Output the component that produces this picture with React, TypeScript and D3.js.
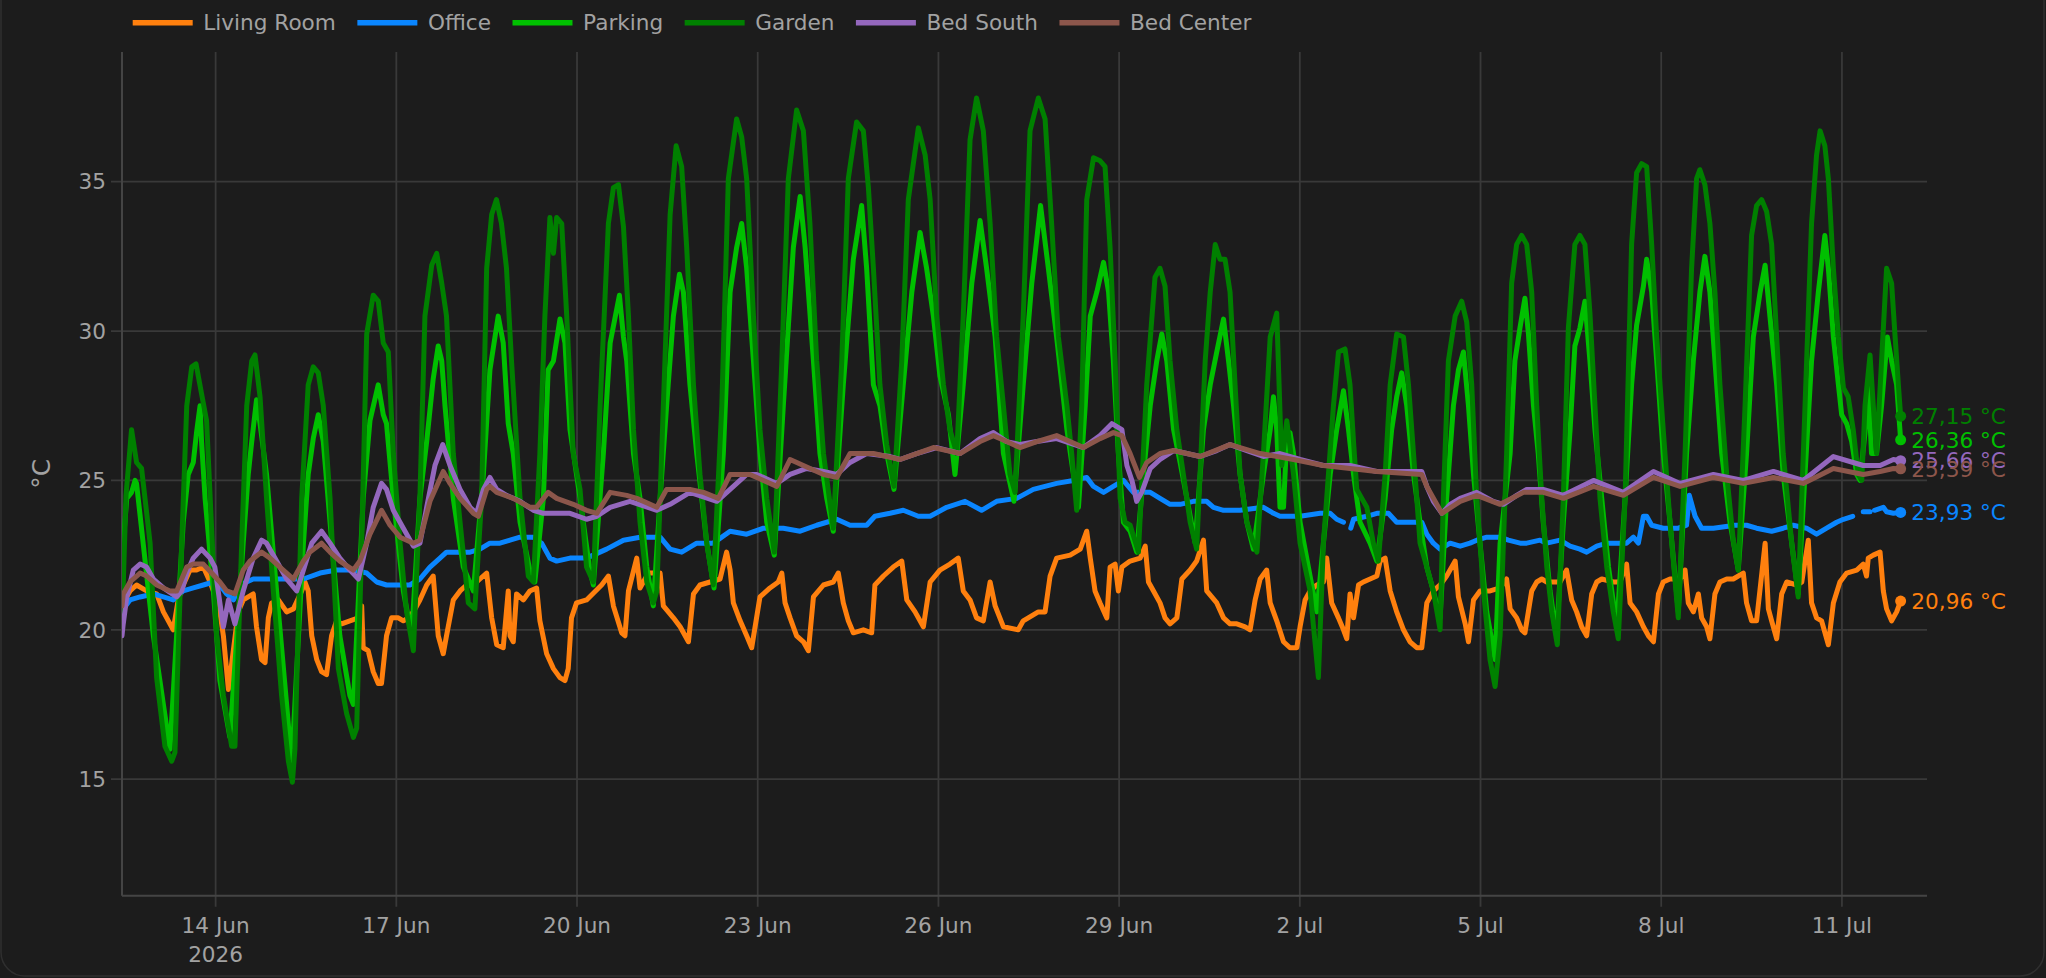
import * as d3 from 'd3';
import { useEffect, useRef } from 'react';

type Pt = [number, number | null];

// readings: [hours since 12 Jun 2026 00:00, °C]; null marks a gap in the history
const livingRoom: Pt[] = [
  [10.7, 20.5], [11.2, 20.9], [13.9, 21.3], [16.5, 21.5], [20.5, 21.3], [24.5, 21.2], [27.2, 20.6], [31.1, 20.0],
  [33.1, 21.0], [35.1, 21.5], [37.8, 22.0], [40.4, 22.0], [43.1, 22.1], [45.8, 21.6], [47.1, 21.3], [49.7, 20.6],
  [51.1, 19.8], [53.1, 18.0], [57.0, 20.6], [59.0, 21.0], [63.0, 21.2], [64.3, 20.1], [66.3, 19.0], [67.7, 18.9],
  [69.0, 20.4], [70.3, 20.9], [73.0, 21.0], [76.3, 20.6], [79.0, 20.7], [82.3, 21.3], [83.6, 21.6], [84.9, 21.3],
  [86.3, 19.8], [88.3, 19.0], [90.2, 18.6], [92.2, 18.5], [94.2, 19.8], [96.2, 20.3], [98.2, 20.2], [101.5, 20.3],
  [104.9, 20.4], [106.2, 20.8], [106.8, 19.4], [108.8, 19.3], [110.8, 18.6], [112.8, 18.2], [114.1, 18.2], [116.1, 19.8],
  [118.1, 20.4], [120.8, 20.4], [122.8, 20.3], [124.8, 20.4], [126.8, 20.6], [129.4, 21.0], [132.1, 21.5], [134.7, 21.8],
  [136.7, 19.8], [138.7, 19.2], [140.0, 19.8], [142.7, 21.0], [145.4, 21.3], [148.0, 21.5], [150.7, 21.5], [153.3, 21.7],
  [156.0, 21.9], [158.0, 20.4], [160.0, 19.5], [162.6, 19.4], [164.6, 21.3], [165.3, 19.8], [166.6, 19.6], [167.9, 21.2],
  [170.6, 21.0], [173.2, 21.3], [175.9, 21.4], [177.2, 20.3], [179.9, 19.2], [182.6, 18.7], [185.2, 18.4], [187.2, 18.3],
  [188.5, 18.7], [189.8, 20.4], [191.8, 20.9], [195.8, 21.0], [201.8, 21.5], [204.5, 21.8], [206.5, 20.8], [209.8, 19.9],
  [211.1, 19.8], [212.5, 21.3], [215.8, 22.4], [217.1, 21.4], [220.4, 21.9], [225.1, 21.9], [226.4, 20.8], [230.4, 20.4],
  [233.1, 20.1], [236.4, 19.6], [238.4, 21.2], [241.0, 21.5], [245.0, 21.6], [249.0, 21.7], [251.6, 22.6], [253.0, 22.0],
  [254.3, 20.9], [257.0, 20.3], [259.6, 19.8], [261.6, 19.4], [264.9, 21.1], [268.9, 21.4], [272.2, 21.6], [273.6, 21.9],
  [274.9, 20.9], [276.9, 20.4], [279.5, 19.8], [282.2, 19.6], [284.2, 19.3], [286.2, 21.1], [290.2, 21.5], [294.1, 21.6],
  [296.1, 21.9], [298.1, 20.9], [300.1, 20.3], [302.1, 19.9], [306.1, 20.0], [309.4, 19.9], [310.7, 21.5], [314.1, 21.8],
  [318.0, 22.1], [321.4, 22.3], [323.4, 21.0], [326.7, 20.6], [330.0, 20.1], [332.7, 21.6], [336.6, 22.0], [340.6, 22.2],
  [343.9, 22.4], [345.9, 21.3], [348.6, 21.0], [351.2, 20.4], [353.9, 20.3], [356.6, 21.6], [358.6, 20.8], [361.9, 20.1],
  [367.8, 20.0], [369.8, 20.3], [375.8, 20.6], [378.5, 20.6], [380.5, 21.8], [383.1, 22.4], [388.5, 22.5], [392.5, 22.7],
  [395.1, 23.3], [396.5, 22.4], [398.4, 21.3], [400.4, 20.9], [403.1, 20.4], [404.4, 22.1], [406.4, 22.2], [407.7, 21.3],
  [409.1, 22.1], [412.4, 22.3], [416.4, 22.4], [418.4, 22.8], [419.7, 21.6], [421.7, 21.3], [424.3, 20.9], [426.3, 20.4],
  [428.3, 20.2], [431.0, 20.4], [433.0, 21.7], [436.3, 22.0], [438.9, 22.3], [441.6, 23.0], [442.9, 21.3], [446.9, 20.9],
  [449.6, 20.4], [452.2, 20.2], [454.9, 20.2], [458.2, 20.1], [460.2, 20.0], [462.2, 21.0], [464.2, 21.7], [466.8, 22.0],
  [468.2, 20.9], [470.8, 20.3], [473.5, 19.6], [476.1, 19.4], [478.8, 19.4], [480.1, 20.1], [482.1, 21.0], [484.1, 21.3],
  [486.8, 21.5], [489.4, 21.6], [490.7, 22.4], [492.7, 20.9], [495.4, 20.4], [497.4, 20.0], [498.7, 19.7], [500.0, 21.2],
  [501.4, 20.4], [503.4, 21.5], [505.3, 21.6], [508.0, 21.7], [510.7, 21.8], [512.0, 22.3], [514.0, 22.4], [516.0, 21.3],
  [518.6, 20.6], [521.3, 20.0], [523.9, 19.6], [526.6, 19.4], [528.6, 19.4], [530.6, 20.9], [533.2, 21.3], [535.9, 21.5],
  [538.5, 21.8], [541.9, 22.3], [543.2, 21.1], [545.9, 20.2], [547.2, 19.6], [549.2, 21.0], [551.8, 21.3], [555.8, 21.3],
  [559.8, 21.4], [562.4, 21.7], [563.8, 20.7], [566.4, 20.4], [568.4, 20.0], [569.7, 19.9], [572.4, 21.3], [574.4, 21.6],
  [576.4, 21.7], [578.4, 21.6], [583.7, 21.6], [586.3, 22.0], [588.3, 21.0], [590.3, 20.6], [592.3, 20.1], [594.3, 19.8],
  [596.3, 21.2], [598.3, 21.6], [600.3, 21.7], [604.9, 21.6], [607.6, 21.6], [610.2, 22.2], [611.6, 20.9], [614.2, 20.6],
  [616.9, 20.1], [618.9, 19.8], [620.9, 19.6], [622.9, 21.2], [624.8, 21.6], [627.5, 21.7], [631.5, 21.7], [633.5, 22.0],
  [634.8, 20.9], [636.8, 20.6], [638.8, 21.2], [640.1, 20.4], [642.1, 20.1], [643.4, 19.7], [645.4, 21.2], [647.4, 21.6],
  [650.1, 21.7], [652.7, 21.7], [656.7, 21.9], [658.0, 20.9], [660.0, 20.3], [662.0, 20.3], [665.4, 22.9], [666.7, 20.7],
  [668.0, 20.3], [670.0, 19.7], [672.0, 21.2], [674.0, 21.6], [678.0, 21.5], [680.0, 21.6], [682.6, 23.0], [683.9, 20.9],
  [685.9, 20.4], [687.9, 20.3], [690.6, 19.5], [692.6, 20.9], [695.2, 21.6], [697.9, 21.9], [701.9, 22.0], [704.5, 22.2],
  [705.8, 21.8], [706.5, 22.4], [708.5, 22.5], [711.2, 22.6], [712.5, 21.3], [713.8, 20.7], [715.8, 20.3], [717.8, 20.6],
  [719.4, 20.96],
];

const office: Pt[] = [
  [10.7, 20.3], [11.2, 20.7], [13.9, 21.0], [17.9, 21.1], [23.2, 21.2], [27.2, 21.1], [31.1, 21.0], [35.1, 21.3],
  [39.1, 21.4], [43.1, 21.5], [47.1, 21.6], [49.7, 21.5], [52.4, 21.2], [55.1, 21.0], [57.7, 21.5], [63.0, 21.7],
  [69.7, 21.7], [76.3, 21.7], [83.0, 21.7], [89.6, 21.9], [96.2, 22.0], [102.9, 22.0], [108.2, 21.9], [112.2, 21.6],
  [116.1, 21.5], [121.5, 21.5], [125.4, 21.5], [129.4, 21.7], [133.4, 22.1], [137.4, 22.4], [140.0, 22.6], [145.4, 22.6],
  [149.4, 22.6], [153.3, 22.7], [157.3, 22.9], [161.3, 22.9], [165.3, 23.0], [169.3, 23.1], [174.6, 23.1], [177.9, 22.9],
  [181.2, 22.4], [183.9, 22.3], [189.2, 22.4], [195.8, 22.4], [203.8, 22.7], [210.5, 23.0], [217.1, 23.1], [225.1, 23.1],
  [229.1, 22.7], [233.7, 22.6], [239.7, 22.9], [246.3, 22.9], [253.0, 23.3], [259.6, 23.2], [266.3, 23.4], [274.2, 23.4],
  [280.9, 23.3], [287.5, 23.5], [295.5, 23.7], [300.8, 23.5], [307.4, 23.5], [310.7, 23.8], [316.7, 23.9], [322.0, 24.0],
  [328.0, 23.8], [332.7, 23.8], [339.3, 24.1], [346.6, 24.3], [353.2, 24.0], [359.2, 24.3], [367.2, 24.4], [373.8, 24.7],
  [383.1, 24.9], [389.8, 25.0], [395.1, 25.1], [397.8, 24.8], [401.8, 24.6], [405.7, 24.8], [409.7, 25.0], [413.7, 24.6],
  [420.4, 24.6], [424.3, 24.4], [428.3, 24.2], [432.3, 24.2], [437.6, 24.3], [442.9, 24.3], [445.6, 24.1], [449.6, 24.0],
  [456.2, 24.0], [465.5, 24.1], [469.5, 23.9], [472.1, 23.8], [480.1, 23.8], [488.1, 23.9], [492.1, 23.9], [494.7, 23.7],
  [497.4, 23.6], [498.5, null], [500.3, 23.4], [501.4, 23.7], [506.7, 23.8], [510.7, 23.9], [515.3, 23.9], [518.6, 23.6],
  [521.3, 23.6], [525.3, 23.6], [528.6, 23.6], [530.6, 23.2], [533.2, 22.9], [535.9, 22.7], [539.9, 22.9], [543.9, 22.8],
  [547.8, 22.9], [550.5, 23.0], [554.5, 23.1], [559.8, 23.1], [563.1, 23.0], [567.8, 22.9], [570.4, 22.9], [575.7, 23.0],
  [578.4, 22.9], [583.7, 23.0], [587.7, 22.8], [591.6, 22.7], [594.3, 22.6], [598.3, 22.8], [602.3, 22.9], [610.2, 22.9],
  [612.9, 23.1], [614.9, 22.9], [616.9, 23.8], [618.2, 23.8], [620.2, 23.5], [624.8, 23.4], [630.8, 23.4], [634.1, 23.5],
  [635.2, 24.5], [637.5, 23.8], [640.1, 23.4], [644.8, 23.4], [653.4, 23.5], [658.0, 23.5], [662.0, 23.4], [668.0, 23.3],
  [672.6, 23.4], [676.6, 23.5], [681.9, 23.4], [685.9, 23.2], [689.9, 23.4], [693.9, 23.6], [696.6, 23.7], [700.3, 23.8],
  [702.0, null], [704.5, 23.95], [707.2, 23.95], [708.0, null], [709.0, 24.0], [712.5, 24.1], [713.8, 23.95], [716.5, 23.9],
  [719.4, 23.93],
];

const parking: Pt[] = [
  [10.7, 20.0], [11.2, 22.9], [12.6, 24.4], [14.5, 24.6], [15.9, 25.0], [16.5, 24.9], [23.2, 19.8], [29.8, 16.0],
  [35.1, 23.6], [37.1, 25.2], [39.1, 25.6], [40.4, 26.6], [41.8, 27.5], [42.4, 26.3], [43.8, 24.4], [47.1, 21.3],
  [49.7, 18.3], [53.7, 16.4], [59.0, 22.9], [61.0, 25.2], [62.4, 26.3], [64.3, 27.7], [65.7, 26.9], [68.3, 25.2],
  [72.3, 21.3], [76.3, 17.5], [78.3, 15.5], [83.0, 22.9], [84.9, 25.2], [86.9, 26.4], [88.9, 27.2], [90.9, 26.3],
  [93.6, 23.6], [97.5, 19.8], [101.5, 17.8], [102.9, 17.5], [106.8, 24.4], [109.5, 27.0], [112.8, 28.2], [114.8, 27.2],
  [116.1, 26.9], [118.8, 24.4], [122.8, 21.3], [126.1, 19.8], [129.4, 24.4], [132.1, 26.3], [134.7, 28.4], [136.7, 29.5],
  [138.1, 29.0], [139.4, 27.5], [142.7, 24.4], [146.7, 22.1], [150.7, 21.3], [154.7, 25.2], [157.3, 28.7], [160.6, 30.5],
  [162.6, 29.6], [164.6, 26.9], [166.6, 25.9], [169.3, 23.6], [173.2, 22.0], [175.2, 21.6], [178.6, 24.4], [180.5, 28.7],
  [182.6, 29.0], [185.2, 30.4], [187.2, 29.6], [189.2, 26.7], [193.2, 24.4], [197.1, 22.0], [198.5, 21.5], [202.5, 25.9],
  [205.2, 29.6], [208.9, 31.2], [210.5, 29.8], [211.8, 29.0], [214.5, 25.9], [217.1, 24.4], [219.8, 22.1], [222.4, 20.8],
  [225.1, 24.4], [227.7, 27.5], [230.4, 30.5], [232.8, 31.9], [234.4, 31.3], [237.0, 28.2], [239.7, 25.9], [243.7, 22.9],
  [246.6, 21.4], [250.3, 25.9], [253.0, 31.3], [255.6, 32.8], [257.6, 33.6], [259.6, 32.1], [262.3, 29.0], [264.9, 25.9],
  [267.6, 23.6], [270.6, 22.5], [274.2, 27.5], [278.2, 32.8], [280.9, 34.5], [282.9, 32.8], [286.2, 29.0], [288.8, 25.9],
  [291.5, 24.4], [294.1, 23.3], [298.1, 28.2], [302.1, 32.4], [305.4, 34.2], [307.4, 32.1], [310.1, 28.2], [312.7, 27.5],
  [315.4, 25.9], [318.3, 24.7], [322.0, 28.2], [325.4, 31.3], [328.7, 33.3], [331.3, 32.1], [334.0, 30.5], [336.6, 28.5],
  [340.0, 27.2], [342.6, 25.2], [345.9, 28.2], [349.3, 31.6], [352.6, 33.7], [355.2, 32.1], [358.6, 29.8], [361.9, 25.9],
  [366.1, 24.3], [369.8, 28.2], [373.2, 31.6], [376.7, 34.2], [379.8, 32.1], [383.1, 29.8], [387.2, 26.7], [389.8, 25.2],
  [391.8, 24.1], [394.5, 27.5], [396.5, 30.5], [399.1, 31.3], [401.8, 32.3], [403.8, 31.3], [405.7, 29.0], [407.7, 25.9],
  [409.7, 23.6], [412.4, 23.3], [415.0, 22.6], [417.7, 25.2], [420.4, 27.5], [423.0, 29.0], [425.0, 29.9], [427.0, 29.0],
  [429.7, 26.7], [432.3, 25.6], [435.0, 24.4], [438.3, 22.9], [441.6, 26.7], [444.3, 28.2], [446.9, 29.3], [449.6, 30.4],
  [451.6, 29.0], [453.6, 27.5], [456.2, 25.2], [458.9, 23.6], [461.5, 22.7], [465.5, 25.2], [468.2, 26.7], [469.5, 27.8],
  [470.8, 26.7], [472.1, 24.1], [473.5, 24.1], [474.8, 26.4], [476.1, 26.6], [477.5, 25.9], [480.1, 23.6], [483.4, 22.1],
  [486.8, 20.6], [489.4, 22.9], [492.1, 25.2], [494.7, 26.7], [497.4, 28.0], [499.4, 26.7], [501.4, 25.2], [504.0, 23.6],
  [508.0, 22.9], [510.7, 22.3], [514.0, 24.4], [516.6, 26.7], [518.6, 27.8], [520.6, 28.6], [522.6, 27.5], [525.3, 25.2],
  [527.9, 23.6], [530.6, 22.1], [533.2, 21.3], [535.9, 20.4], [538.5, 24.4], [541.2, 27.5], [543.2, 28.7], [545.2, 29.3],
  [547.2, 27.5], [549.2, 25.2], [551.8, 22.9], [554.5, 20.6], [557.8, 19.0], [559.8, 22.9], [563.8, 25.9], [565.7, 29.0],
  [567.7, 30.1], [569.7, 31.1], [571.1, 29.9], [573.1, 27.5], [575.0, 25.9], [577.0, 23.6], [579.7, 21.3], [582.3, 19.8],
  [585.0, 23.6], [587.7, 26.7], [589.6, 29.5], [591.6, 30.1], [593.6, 31.0], [595.6, 29.0], [597.6, 26.7], [600.3, 24.4],
  [603.0, 22.1], [606.3, 20.1], [609.6, 24.4], [612.2, 28.2], [614.2, 30.2], [616.9, 31.5], [618.2, 32.4], [620.2, 31.3],
  [622.2, 29.0], [624.8, 25.9], [627.5, 23.6], [630.8, 20.6], [634.1, 25.9], [636.8, 29.0], [639.4, 31.3], [641.4, 32.5],
  [643.4, 31.3], [645.4, 29.0], [648.1, 25.9], [651.4, 23.6], [654.7, 22.0], [658.0, 25.9], [660.7, 29.8], [663.4, 31.3],
  [665.4, 32.2], [667.3, 30.5], [670.0, 28.2], [672.6, 25.2], [676.0, 22.9], [678.6, 21.2], [681.3, 25.2], [683.9, 29.0],
  [686.6, 31.3], [689.2, 33.2], [690.6, 32.1], [692.6, 29.8], [694.6, 28.2], [695.9, 27.2], [697.9, 26.9], [699.9, 26.3],
  [701.9, 25.2], [703.2, 25.0], [705.2, 26.6], [706.5, 28.2], [707.8, 25.9], [709.8, 25.9], [711.8, 27.5], [714.1, 29.8],
  [715.8, 29.0], [717.8, 28.2], [719.4, 26.36],
];

const garden: Pt[] = [
  [10.7, 20.2], [12.3, 24.5], [14.5, 26.7], [16.5, 25.6], [18.5, 25.4], [21.9, 22.9], [24.5, 18.4], [27.8, 16.1],
  [30.5, 15.6], [31.8, 15.9], [34.5, 22.9], [36.5, 27.5], [38.5, 28.8], [40.2, 28.9], [42.4, 27.9], [44.4, 27.0],
  [48.4, 19.8], [51.1, 17.8], [54.4, 16.1], [55.7, 16.1], [58.4, 22.9], [60.4, 27.5], [62.4, 29.0], [63.7, 29.2],
  [65.7, 27.8], [68.3, 24.4], [71.0, 21.3], [74.3, 17.8], [77.0, 15.6], [78.6, 14.9], [79.6, 16.0], [82.3, 24.4],
  [84.9, 28.2], [86.9, 28.8], [88.9, 28.6], [90.9, 27.5], [93.6, 24.4], [96.9, 18.7], [100.2, 17.2], [102.9, 16.4],
  [104.2, 16.7], [106.2, 22.9], [108.2, 29.9], [110.8, 31.2], [112.8, 31.0], [114.8, 29.6], [116.8, 29.3], [118.8, 25.9],
  [121.5, 22.9], [124.1, 20.6], [126.8, 19.3], [129.4, 24.4], [131.4, 30.5], [134.1, 32.2], [136.1, 32.6], [138.1, 31.6],
  [140.0, 30.5], [142.7, 25.9], [145.4, 23.6], [148.7, 20.9], [151.3, 20.7], [154.0, 24.4], [156.0, 32.1], [158.0, 33.9],
  [159.9, 34.4], [161.9, 33.6], [163.9, 32.1], [165.9, 29.0], [169.3, 24.4], [172.6, 21.8], [174.6, 21.6], [177.2, 25.9],
  [179.2, 30.5], [181.2, 33.8], [182.6, 32.6], [183.9, 33.8], [185.9, 33.6], [187.9, 30.5], [190.5, 25.9], [193.2, 24.7],
  [195.8, 22.1], [198.5, 21.6], [201.2, 27.5], [204.5, 33.6], [206.5, 34.8], [208.5, 34.9], [210.5, 33.5], [212.5, 30.5],
  [214.5, 26.7], [217.1, 23.6], [219.8, 21.6], [222.4, 20.9], [223.8, 21.3], [226.4, 27.5], [229.1, 33.9], [231.5, 36.2],
  [233.7, 35.5], [235.7, 32.8], [238.4, 28.2], [241.0, 25.2], [243.7, 22.9], [246.3, 21.5], [249.7, 27.5], [252.3, 35.1],
  [255.6, 37.1], [257.6, 36.5], [259.6, 35.1], [262.3, 30.5], [264.9, 26.7], [267.6, 24.4], [270.6, 22.6], [273.6, 29.0],
  [276.2, 35.1], [279.5, 37.4], [282.2, 36.7], [284.8, 33.6], [287.5, 29.0], [290.2, 25.9], [294.1, 23.4], [297.5, 29.0],
  [300.1, 35.1], [303.4, 37.0], [306.1, 36.7], [308.1, 34.8], [310.1, 32.1], [312.7, 28.2], [315.4, 26.2], [318.3, 24.8],
  [321.4, 29.0], [324.0, 34.4], [328.0, 36.8], [330.7, 35.9], [332.7, 34.4], [335.3, 30.5], [338.0, 28.2], [340.6, 26.7],
  [343.3, 25.9], [345.9, 30.5], [348.6, 36.4], [351.2, 37.8], [353.9, 36.7], [356.6, 33.6], [359.2, 29.8], [361.9, 27.5],
  [364.5, 25.2], [366.5, 24.6], [369.8, 30.5], [372.5, 36.7], [375.8, 37.8], [378.5, 37.1], [381.1, 33.6], [383.8, 29.8],
  [387.2, 27.5], [389.1, 25.9], [391.1, 24.0], [393.1, 27.5], [395.1, 34.4], [397.8, 35.8], [400.4, 35.7], [402.4, 35.5],
  [404.4, 32.8], [406.4, 29.0], [408.4, 24.4], [410.4, 23.6], [412.4, 23.5], [415.7, 22.6], [419.0, 28.2], [422.3, 31.8],
  [424.3, 32.1], [426.3, 31.5], [428.3, 29.0], [431.0, 26.7], [433.6, 25.2], [436.3, 23.6], [438.9, 22.7], [442.3, 29.0],
  [444.3, 31.3], [446.3, 32.9], [448.2, 32.4], [450.2, 32.4], [452.2, 31.3], [454.2, 28.2], [456.2, 25.2], [458.9, 23.6],
  [461.5, 22.9], [462.9, 22.6], [465.5, 25.9], [468.2, 29.8], [470.8, 30.6], [472.8, 25.5], [474.8, 27.0], [477.5, 25.2],
  [480.1, 22.9], [484.1, 21.3], [487.4, 18.4], [489.4, 22.9], [491.4, 25.2], [493.4, 27.5], [495.4, 29.3], [498.0, 29.4],
  [500.0, 28.2], [501.4, 26.3], [502.7, 24.7], [504.7, 24.4], [506.7, 24.1], [509.3, 22.9], [511.3, 22.3], [514.0, 25.2],
  [516.0, 28.2], [518.6, 29.9], [521.3, 29.8], [523.3, 28.2], [525.3, 25.9], [527.9, 22.9], [530.6, 22.1], [533.2, 21.3],
  [535.9, 20.0], [537.2, 24.4], [539.2, 29.0], [541.9, 30.5], [544.5, 31.0], [546.5, 30.3], [548.5, 28.2], [550.5, 24.4],
  [553.2, 21.3], [555.8, 19.0], [557.8, 18.1], [559.8, 19.8], [562.4, 25.9], [564.4, 31.6], [566.4, 32.9], [568.4, 33.2],
  [570.4, 32.9], [572.4, 31.3], [574.4, 27.5], [576.4, 24.4], [578.4, 22.1], [580.4, 20.6], [582.6, 19.5], [585.0, 24.4],
  [587.0, 30.1], [589.6, 32.9], [591.6, 33.2], [593.6, 32.9], [595.6, 30.6], [597.6, 27.5], [599.6, 24.4], [602.3, 22.1],
  [604.9, 20.6], [606.9, 19.7], [609.6, 24.4], [612.2, 32.9], [614.2, 35.3], [616.2, 35.6], [618.2, 35.5], [620.2, 32.9],
  [622.2, 29.8], [624.8, 26.7], [627.5, 23.6], [630.8, 20.4], [633.5, 25.9], [636.1, 32.1], [638.1, 35.1], [639.4, 35.4],
  [641.4, 34.9], [643.4, 33.6], [645.4, 31.3], [647.4, 28.2], [650.1, 25.2], [652.7, 23.0], [654.7, 22.0], [657.4, 27.5],
  [660.0, 33.2], [662.0, 34.2], [664.0, 34.4], [666.0, 34.0], [668.0, 32.9], [670.0, 29.8], [672.6, 25.9], [676.0, 22.9],
  [678.6, 21.1], [681.3, 27.5], [683.9, 33.6], [685.9, 35.9], [687.3, 36.7], [689.2, 36.2], [690.6, 35.1], [692.6, 32.1],
  [694.6, 29.8], [696.6, 28.1], [698.5, 27.8], [700.5, 26.7], [702.5, 25.2], [703.9, 25.0], [705.2, 27.5], [707.2, 29.2],
  [708.5, 27.5], [709.8, 25.9], [711.8, 29.0], [713.8, 32.1], [715.8, 31.6], [717.2, 29.8], [718.5, 28.2], [719.4, 27.15],
];

const bedSouth: Pt[] = [
  [10.7, 19.8], [11.2, 20.2], [12.6, 21.1], [15.2, 22.0], [17.9, 22.2], [20.5, 22.1], [23.2, 21.7], [27.2, 21.4],
  [32.5, 21.1], [34.5, 21.3], [36.5, 21.9], [39.1, 22.4], [42.4, 22.7], [45.8, 22.4], [47.7, 22.1], [49.7, 20.9],
  [51.1, 20.1], [53.1, 21.0], [55.7, 20.2], [59.0, 21.3], [63.0, 22.4], [66.3, 23.0], [68.3, 22.9], [72.3, 22.3],
  [76.3, 21.7], [80.3, 21.3], [83.0, 22.0], [86.3, 22.9], [90.2, 23.3], [93.6, 22.9], [97.5, 22.4], [101.5, 22.0],
  [104.9, 21.7], [108.2, 22.9], [110.8, 24.1], [114.1, 24.9], [116.1, 24.7], [118.8, 24.0], [122.8, 23.4], [126.8, 22.8],
  [129.4, 22.9], [132.1, 24.1], [135.4, 25.5], [138.5, 26.2], [141.4, 25.5], [145.4, 24.7], [149.4, 24.1], [152.0, 23.9],
  [154.7, 24.7], [157.3, 25.1], [160.0, 24.7], [163.9, 24.5], [169.3, 24.3], [174.6, 24.0], [178.6, 23.9], [182.6, 23.9],
  [189.2, 23.9], [195.8, 23.7], [199.9, 23.8], [205.2, 24.1], [213.1, 24.3], [223.8, 24.0], [229.1, 24.2], [237.0, 24.6],
  [247.7, 24.3], [253.0, 24.7], [259.6, 25.2], [263.6, 25.2], [271.6, 24.9], [276.9, 25.2], [283.5, 25.4], [290.2, 25.3],
  [295.5, 25.2], [300.8, 25.6], [307.4, 25.9], [316.7, 25.8], [320.7, 25.7], [327.3, 25.9], [335.3, 26.1], [344.6, 25.9],
  [352.6, 26.4], [357.9, 26.6], [363.2, 26.3], [368.5, 26.2], [375.2, 26.3], [383.1, 26.4], [393.8, 26.1], [400.4, 26.5],
  [405.1, 26.9], [409.1, 26.7], [411.1, 25.5], [413.1, 25.0], [415.0, 24.3], [417.0, 24.6], [420.4, 25.4], [424.3, 25.7],
  [429.7, 26.0], [435.0, 25.9], [440.3, 25.8], [446.9, 26.0], [452.2, 26.2], [458.9, 26.0], [465.5, 25.8], [472.1, 25.9],
  [480.1, 25.7], [489.4, 25.5], [500.0, 25.5], [510.7, 25.3], [517.3, 25.3], [528.6, 25.3], [530.6, 24.8], [533.2, 24.3],
  [536.6, 23.9], [539.9, 24.2], [543.9, 24.4], [550.5, 24.6], [557.1, 24.3], [561.1, 24.2], [566.4, 24.5], [570.4, 24.7],
  [577.0, 24.7], [585.0, 24.5], [597.0, 25.0], [608.9, 24.6], [620.9, 25.3], [631.5, 24.9], [644.8, 25.2], [656.7, 25.0],
  [668.7, 25.3], [680.6, 25.0], [692.6, 25.8], [704.5, 25.5], [711.2, 25.5], [716.5, 25.7], [719.4, 25.66],
];

const bedCenter: Pt[] = [
  [10.7, 20.8], [11.2, 21.2], [13.9, 21.6], [17.9, 21.9], [20.5, 21.8], [24.5, 21.5], [29.8, 21.3], [32.5, 21.3],
  [36.5, 22.1], [39.1, 22.2], [43.1, 22.2], [46.4, 21.9], [49.7, 21.6], [52.4, 21.3], [55.7, 21.2], [59.0, 22.0],
  [61.7, 22.3], [66.3, 22.6], [69.7, 22.4], [73.6, 22.1], [79.0, 21.7], [83.0, 22.3], [85.6, 22.6], [90.2, 22.9],
  [93.6, 22.6], [97.5, 22.3], [102.9, 22.0], [105.5, 22.3], [109.5, 23.2], [114.1, 24.0], [117.5, 23.5], [121.5, 23.1],
  [126.8, 22.9], [129.4, 23.0], [133.4, 24.3], [138.7, 25.3], [141.4, 24.9], [145.4, 24.4], [150.7, 23.9], [152.7, 23.8],
  [156.0, 24.7], [157.3, 24.8], [160.0, 24.6], [166.6, 24.4], [173.2, 24.1], [175.9, 24.1], [180.5, 24.6], [183.9, 24.4],
  [190.5, 24.2], [195.8, 24.0], [199.9, 23.9], [205.2, 24.6], [211.8, 24.5], [215.8, 24.4], [223.8, 24.1], [227.7, 24.7],
  [237.0, 24.7], [242.4, 24.6], [248.3, 24.4], [253.0, 25.2], [260.9, 25.2], [266.3, 25.0], [271.6, 24.8], [276.9, 25.7],
  [282.2, 25.5], [290.2, 25.2], [295.5, 25.1], [300.8, 25.9], [310.1, 25.9], [320.7, 25.7], [327.3, 25.9], [334.0, 26.1],
  [344.6, 25.9], [352.6, 26.3], [357.9, 26.5], [363.2, 26.3], [368.5, 26.1], [375.2, 26.3], [383.1, 26.5], [393.8, 26.1],
  [400.4, 26.4], [405.7, 26.6], [409.1, 26.5], [412.4, 25.9], [416.1, 25.1], [419.0, 25.6], [424.3, 25.9], [429.7, 26.0],
  [440.3, 25.8], [452.2, 26.2], [464.2, 25.9], [477.5, 25.7], [489.4, 25.5], [510.7, 25.3], [528.6, 25.2], [530.6, 24.8],
  [536.6, 23.9], [543.9, 24.3], [550.5, 24.5], [559.8, 24.2], [569.1, 24.6], [577.0, 24.6], [585.0, 24.4], [597.0, 24.8],
  [608.9, 24.5], [620.9, 25.1], [631.5, 24.8], [644.8, 25.1], [656.7, 24.9], [668.7, 25.1], [680.6, 24.9], [692.6, 25.4],
  [704.5, 25.2], [711.2, 25.3], [716.5, 25.4], [719.4, 25.39],
];

const seriesNames = ['Living Room', 'Office', 'Parking', 'Garden', 'Bed South', 'Bed Center'];
const seriesColors = ['#ff800e', '#0a86ff', '#00c000', '#008000', '#9467bd', '#8c564b'];
const xTickDates = ['2026-06-14', '2026-06-17', '2026-06-20', '2026-06-23', '2026-06-26', '2026-06-29', '2026-07-02', '2026-07-05', '2026-07-08', '2026-07-11'];
const yTicks = [15, 20, 25, 30, 35];

const W = 2046;
const H = 978;
const origin = new Date(2026, 5, 12);
const toDate = (h: number) => new Date(origin.getTime() + h * 3600e3);

export default function App() {
  const ref = useRef<SVGSVGElement | null>(null);

  useEffect(() => {
    const svg = d3.select(ref.current);
    svg.selectAll('*').remove();
    const font = '"DejaVu Sans", Verdana, sans-serif';
    const textColor = '#a2a2a2';
    const gridColor = '#393939';
    const left = 122;
    const right = 1927;
    const top = 52;
    const bottom = 895.7;
    const series = [livingRoom, office, parking, garden, bedSouth, bedCenter];

    const x = d3.scaleTime().domain([toDate(10.7), toDate(729.9)]).range([left, right]);
    const y = d3.scaleLinear().domain([11.1, 39.34]).range([bottom, top]);

    svg.append('rect').attr('width', W).attr('height', H).attr('fill', '#1c1c1c');
    svg
      .append('rect')
      .attr('x', 1)
      .attr('y', -40)
      .attr('width', W - 3)
      .attr('height', H + 38)
      .attr('rx', 24)
      .attr('fill', 'none')
      .attr('stroke', '#2f2f2f')
      .attr('stroke-width', 1.5);

    // grid + ticks
    const ticks = xTickDates.map((d) => d3.timeParse('%Y-%m-%d')(d) as Date);
    svg
      .append('g')
      .selectAll('line')
      .data(ticks)
      .join('line')
      .attr('x1', (d) => x(d))
      .attr('x2', (d) => x(d))
      .attr('y1', top)
      .attr('y2', bottom + 11)
      .attr('stroke', gridColor)
      .attr('stroke-width', 1.8);
    svg
      .append('g')
      .selectAll('line')
      .data(yTicks)
      .join('line')
      .attr('x1', left - 11)
      .attr('x2', right)
      .attr('y1', (d) => y(d))
      .attr('y2', (d) => y(d))
      .attr('stroke', gridColor)
      .attr('stroke-width', 1.8);
    svg.append('line').attr('x1', left).attr('x2', left).attr('y1', top).attr('y2', bottom).attr('stroke', '#444').attr('stroke-width', 2);
    svg.append('line').attr('x1', left).attr('x2', right).attr('y1', bottom).attr('y2', bottom).attr('stroke', '#444').attr('stroke-width', 2);

    const fmt = d3.timeFormat('%-d %b');
    svg
      .append('g')
      .selectAll('text')
      .data(ticks)
      .join('text')
      .attr('x', (d) => x(d))
      .attr('y', 933)
      .attr('text-anchor', 'middle')
      .attr('fill', textColor)
      .attr('font-family', font)
      .attr('font-size', 21.6)
      .text((d) => fmt(d));
    svg
      .append('text')
      .attr('x', x(ticks[0]))
      .attr('y', 962)
      .attr('text-anchor', 'middle')
      .attr('fill', textColor)
      .attr('font-family', font)
      .attr('font-size', 21.6)
      .text(d3.timeFormat('%Y')(ticks[0]));
    svg
      .append('g')
      .selectAll('text')
      .data(yTicks)
      .join('text')
      .attr('x', 106)
      .attr('y', (d) => y(d))
      .attr('dy', '0.36em')
      .attr('text-anchor', 'end')
      .attr('fill', textColor)
      .attr('font-family', font)
      .attr('font-size', 21.6)
      .text((d) => d);
    svg
      .append('text')
      .attr('transform', `translate(50,${(top + bottom) / 2}) rotate(-90)`)
      .attr('text-anchor', 'middle')
      .attr('fill', textColor)
      .attr('font-family', font)
      .attr('font-size', 25)
      .text('°C');

    // lines
    svg.append('clipPath').attr('id', 'plot-clip').append('rect').attr('x', left).attr('y', top).attr('width', right - left).attr('height', bottom - top);
    const line = d3
      .line<Pt>()
      .defined((d) => d[1] !== null)
      .x((d) => x(toDate(d[0])))
      .y((d) => y(d[1] as number));
    const plot = svg.append('g').attr('clip-path', 'url(#plot-clip)');
    series.forEach((data, i) => {
      plot
        .append('path')
        .attr('d', line(data))
        .attr('fill', 'none')
        .attr('stroke', seriesColors[i])
        .attr('stroke-width', 5)
        .attr('stroke-linejoin', 'round')
        .attr('stroke-linecap', 'round');
    });

    // last-value markers
    series.forEach((data, i) => {
      const [h, v] = data[data.length - 1];
      const cx = x(toDate(h));
      const cy = y(v as number);
      svg.append('circle').attr('cx', cx).attr('cy', cy).attr('r', 5.5).attr('fill', seriesColors[i]);
      svg
        .append('text')
        .attr('x', cx + 10.7)
        .attr('y', cy)
        .attr('dy', '0.36em')
        .attr('fill', seriesColors[i])
        .attr('font-family', font)
        .attr('font-size', 21.6)
        .text(`${(v as number).toFixed(2).replace('.', ',')} °C`);
    });

    // legend
    let lx = 132.7;
    seriesNames.forEach((name, i) => {
      const g = svg.append('g');
      g.append('line').attr('x1', lx).attr('x2', lx + 60).attr('y1', 22.7).attr('y2', 22.7).attr('stroke', seriesColors[i]).attr('stroke-width', 5.4);
      const t = g
        .append('text')
        .attr('x', lx + 70.6)
        .attr('y', 22.7)
        .attr('dy', '0.36em')
        .attr('fill', textColor)
        .attr('font-family', font)
        .attr('font-size', 21.6)
        .text(name);
      const w = (t.node() as SVGTextElement).getComputedTextLength();
      lx += 70.6 + w + 21.5;
    });
  }, []);

  return <svg ref={ref} width={W} height={H} style={{ position: 'fixed', left: 0, top: 0 }} role="img" aria-label="Temperature history" />;
}
